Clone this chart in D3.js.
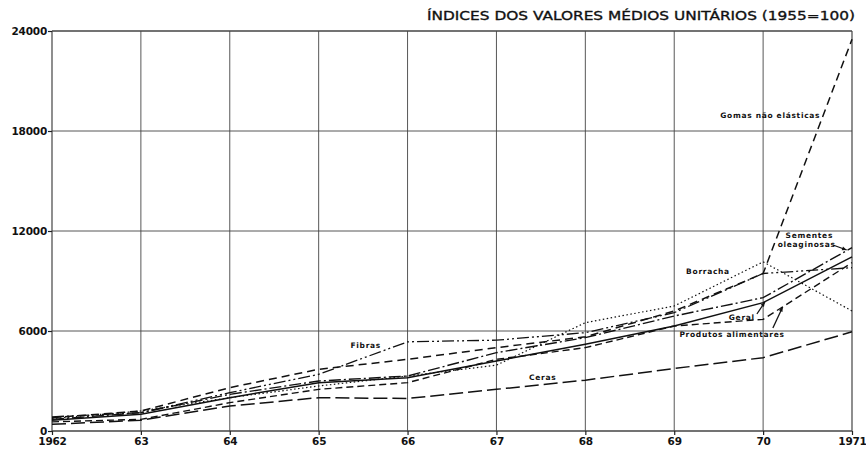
<!DOCTYPE html>
<html lang="pt">
<head>
<meta charset="UTF-8">
<title>Índices dos valores médios unitários</title>
<script src="https://cdn.jsdelivr.net/npm/d3@7"></script>
<style>
  body { margin: 0; background: #fff; }
  text { font-family: "DejaVu Sans", sans-serif; fill: #111; }
</style>
</head>
<body>
<svg id="chart" width="866" height="452"></svg>
<script>
// dados
var years = [1962, 1963, 1964, 1965, 1966, 1967, 1968, 1969, 1970, 1971];
var yearLabels = ["1962", "63", "64", "65", "66", "67", "68", "69", "70", "1971"];
var yTicks = [0, 6000, 12000, 18000, 24000];

var geral       = [650, 1000, 2000, 2900, 3200, 4200, 5200, 6300, 7700, 10450];
var produtos    = [550, 700, 1700, 2500, 2900, 4300, 5000, 6300, 6700, 10100];
var sementes    = [700, 1100, 2200, 3000, 3300, 4700, 5600, 6900, 8000, 11000];
var borracha    = [750, 1200, 2000, 2700, 3300, 3950, 6500, 7500, 10150, 7200];
var gomas       = [800, 1200, 2600, 3700, 4300, 5000, 5650, 7200, 9450, 23500];
var fibras      = [850, 1100, 2300, 3400, 5350, 5450, 5900, 7100, 9450, 9800];
var ceras       = [400, 650, 1500, 2000, 1950, 2500, 3050, 3750, 4400, 5950];

var series = [
    {name: "Ceras", values: ceras, dash: "14,5", w: 1.5},
    {name: "Produtos alimentares", values: produtos, dash: "7,4", w: 1.4},
    {name: "Geral", values: geral, dash: null, w: 1.5},
    {name: "Sementes oleaginosas", values: sementes, dash: "12,3,2,3", w: 1.4},
    {name: "Borracha", values: borracha, dash: "1.5,2.5", w: 1.2},
    {name: "Fibras", values: fibras, dash: "12,3,2,3,2,3", w: 1.3},
    {name: "Gomas não elásticas", values: gomas, dash: "8,5", w: 1.5}
];

var svg = d3.select("#chart");
var plotL = 52, plotR = 852, plotT = 31, plotB = 431;

var x = d3.scaleLinear().domain([1962, 1971]).range([plotL, plotR]);
var y = d3.scaleLinear().domain([0, 24000]).range([plotB, plotT]);

// grade
var grid = svg.append("g");
grid.selectAll("line.v")
    .data(years)
    .enter()
    .append("line")
    .attr("class", "v")
    .attr("x1", d => x(d)).attr("x2", d => x(d))
    .attr("y1", y(24000)).attr("y2", y(0))
    .style("stroke", "#444")
    .style("stroke-width", d => (d === 1962 || d === 1971) ? 1.2 : 0.9);
grid.selectAll("line.h")
    .data(yTicks)
    .enter()
    .append("line")
    .attr("class", "h")
    .attr("x1", x(1962)).attr("x2", x(1971))
    .attr("y1", d => y(d)).attr("y2", d => y(d))
    .style("stroke", "#444")
    .style("stroke-width", d => (d === 0 || d === 24000) ? 1.3 : 0.9);

// eixos
var yAxis = d3.axisLeft(y).tickValues(yTicks).tickSize(4).tickFormat(d3.format("d"));
var gy = svg.append("g").attr("transform", "translate(" + plotL + ",0)").call(yAxis);
var xAxis = d3.axisBottom(x).tickValues(years).tickSize(4).tickFormat((d, i) => yearLabels[i]);
var gx = svg.append("g").attr("transform", "translate(0," + plotB + ")").call(xAxis);
[gy, gx].forEach(function (g) {
    g.select(".domain").remove();
    g.selectAll(".tick line").style("stroke", "#222").style("stroke-width", 1.2);
    g.selectAll("text")
        .style("font-family", "'DejaVu Sans', sans-serif")
        .style("font-weight", "bold")
        .style("font-size", "10.5px")
        .style("letter-spacing", "-0.2px")
        .style("fill", "#111");
});
gy.selectAll("text").attr("x", -5);
gx.selectAll("text").attr("y", 7);

// linhas
var line = d3.line()
    .x((d, i) => x(years[i]))
    .y(d => y(d));

svg.append("g")
    .selectAll("path")
    .data(series)
    .enter()
    .append("path")
    .attr("d", d => line(d.values))
    .style("fill", "none")
    .style("stroke", "#111")
    .style("stroke-width", d => d.w)
    .style("stroke-dasharray", d => d.dash);

// rótulos
var labels = [
    {t: "Gomas não elásticas", yr: 1970.08, v: 18780},
    {t: "Sementes", yr: 1970.52, v: 11580},
    {t: "oleaginosas", yr: 1970.49, v: 11040},
    {t: "Borracha", yr: 1969.38, v: 9450},
    {t: "Geral", yr: 1969.76, v: 6660},
    {t: "Produtos alimentares", yr: 1969.65, v: 5640},
    {t: "Fibras", yr: 1965.53, v: 4980},
    {t: "Ceras", yr: 1967.52, v: 3060}
];
svg.append("g")
    .selectAll("text")
    .data(labels)
    .enter()
    .append("text")
    .attr("x", d => x(d.yr))
    .attr("y", d => y(d.v))
    .attr("text-anchor", "middle")
    .style("font-size", "7.5px")
    .style("font-weight", "900")
    .style("letter-spacing", "0.7px")
    .text(d => d.t);

// setas dos rótulos
var pointers = [
    [[1970.786, 11160], [1970.94, 10860]],
    [[1969.93, 7020], [1970.02, 7740]],
    [[1970.11, 6180], [1970.22, 7440]]
];
svg.append("g")
    .selectAll("path")
    .data(pointers)
    .enter()
    .append("path")
    .attr("d", d => "M" + x(d[0][0]) + "," + y(d[0][1]) + "L" + x(d[1][0]) + "," + y(d[1][1]))
    .style("stroke", "#111")
    .style("stroke-width", 1.3)
    .style("fill", "none");

// pontas das setas
svg.append("g")
    .selectAll("path")
    .data(pointers)
    .enter()
    .append("path")
    .attr("d", function (d) {
        var x0 = x(d[0][0]), y0 = y(d[0][1]), x1 = x(d[1][0]), y1 = y(d[1][1]);
        var a = Math.atan2(y1 - y0, x1 - x0), s = 5;
        return "M" + x1 + "," + y1 +
            "L" + (x1 - s * Math.cos(a - 0.4)) + "," + (y1 - s * Math.sin(a - 0.4)) +
            "L" + (x1 - s * Math.cos(a + 0.4)) + "," + (y1 - s * Math.sin(a + 0.4)) + "Z";
    })
    .style("fill", "#111");

// título
svg.append("text")
    .attr("x", 855)
    .attr("y", 20)
    .attr("text-anchor", "end")
    .attr("textLength", 428)
    .attr("lengthAdjust", "spacingAndGlyphs")
    .style("font-size", "12.5px")
    .style("font-weight", "normal")
    .style("stroke", "#111")
    .style("stroke-width", 0.35)
    .style("fill", "#111")
    .text("ÍNDICES DOS VALORES MÉDIOS UNITÁRIOS (1955=100)");
</script>
</body>
</html>
